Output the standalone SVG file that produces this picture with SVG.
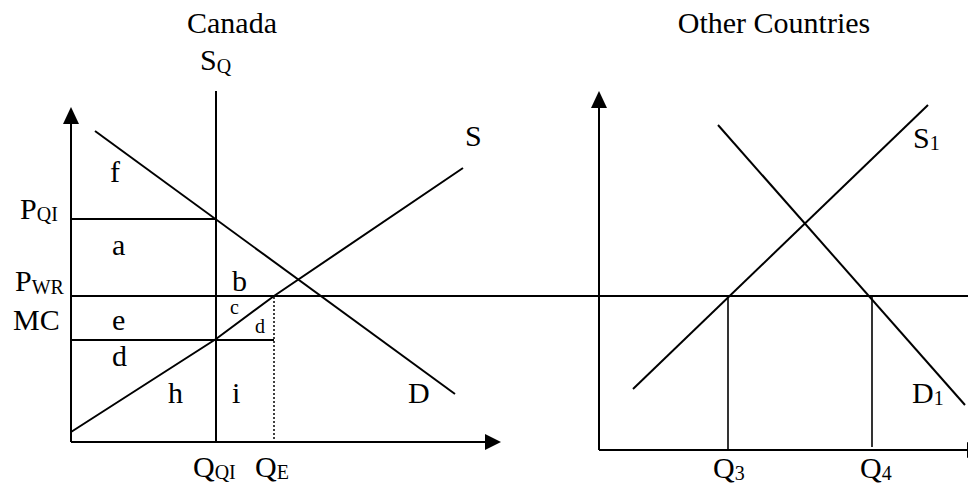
<svg xmlns="http://www.w3.org/2000/svg" width="968" height="483" viewBox="0 0 968 483">
<style>
text{font-family:"Liberation Serif","Times New Roman",serif;font-size:30px;fill:#000}
.sub{font-size:20px}
.sm{font-size:20px}
.ln{stroke:#000;stroke-width:2;fill:none}
.thin{stroke:#000;stroke-width:1.6;fill:none}
.dot{stroke:#000;stroke-width:1.5;stroke-dasharray:2 2;fill:none}
.ah{fill:#000;stroke:none}
</style>
<rect width="968" height="483" fill="#fff"/>
<g id="connectors">
<g id="left-axes">
<line class="ln" x1="71" y1="442" x2="71" y2="122"/>
<polygon class="ah" points="71,107 63,124 79,124"/>
<line class="ln" x1="71" y1="442" x2="487" y2="442"/>
<polygon class="ah" points="501,442 485,434 485,450"/>
</g>
<line id="SQ-line" class="ln" x1="216" y1="91" x2="216" y2="442"/>
<line id="D-line" class="ln" x1="95" y1="131" x2="455" y2="394"/>
<polyline id="S-line" class="ln" points="71,432 216,339 274,296 463,168"/>
<line id="PQI-line" class="ln" x1="71" y1="219" x2="216" y2="219"/>
<line id="PWR-line" class="ln" x1="71" y1="296" x2="968" y2="296"/>
<line id="MC-line" class="ln" x1="71" y1="340" x2="274" y2="340"/>
<line id="QE-line" class="dot" x1="274" y1="297" x2="274" y2="440"/>
<g id="right-axes">
<line class="ln" x1="599" y1="450" x2="599" y2="106"/>
<polygon class="ah" points="599,91 591,108 607,108"/>
<line class="ln" x1="599" y1="450" x2="968" y2="450"/>
<polygon class="ah" points="983,450 967,442 967,458"/>
</g>
<line id="S1-line" class="ln" x1="633" y1="389" x2="928" y2="105"/>
<line id="D1-line" class="ln" x1="718" y1="125" x2="965" y2="405"/>
<line id="Q3-line" class="thin" x1="728" y1="296" x2="728" y2="450"/>
<line id="Q4-line" class="thin" x1="872" y1="296" x2="872" y2="447"/>
</g>
<g id="title-canada"><text x="232" y="33" text-anchor="middle">Canada</text></g>
<g id="title-other"><text x="774" y="33" text-anchor="middle">Other Countries</text></g>
<g id="label-SQ"><text x="200" y="70">S<tspan class="sub" dy="3">Q</tspan></text></g>
<g id="label-S"><text x="465" y="146">S</text></g>
<g id="label-f"><text x="110" y="182">f</text></g>
<g id="label-PQI"><text x="20" y="219">P<tspan class="sub" dy="2">QI</tspan></text></g>
<g id="label-a"><text x="112" y="255">a</text></g>
<g id="label-PWR"><text x="15" y="291">P<tspan class="sub" dy="3">WR</tspan></text></g>
<g id="label-b"><text x="232" y="291">b</text></g>
<g id="label-c"><text class="sm" x="230" y="314">c</text></g>
<g id="label-MC"><text x="13" y="330">MC</text></g>
<g id="label-e"><text x="112" y="330">e</text></g>
<g id="label-d-small"><text class="sm" x="255" y="333">d</text></g>
<g id="label-d"><text x="112" y="366">d</text></g>
<g id="label-h"><text x="168" y="403">h</text></g>
<g id="label-i"><text x="232" y="403">i</text></g>
<g id="label-D"><text x="408" y="403">D</text></g>
<g id="label-QQI"><text x="193" y="477">Q<tspan class="sub" dy="2">QI</tspan></text></g>
<g id="label-QE"><text x="255" y="477">Q<tspan class="sub" dy="2">E</tspan></text></g>
<g id="label-S1"><text x="913" y="148">S<tspan class="sub" dy="2">1</tspan></text></g>
<g id="label-D1"><text x="912" y="403">D<tspan class="sub" dy="2">1</tspan></text></g>
<g id="label-Q3"><text x="713" y="478">Q<tspan class="sub" dy="2">3</tspan></text></g>
<g id="label-Q4"><text x="860" y="478">Q<tspan class="sub" dy="2">4</tspan></text></g>
</svg>
